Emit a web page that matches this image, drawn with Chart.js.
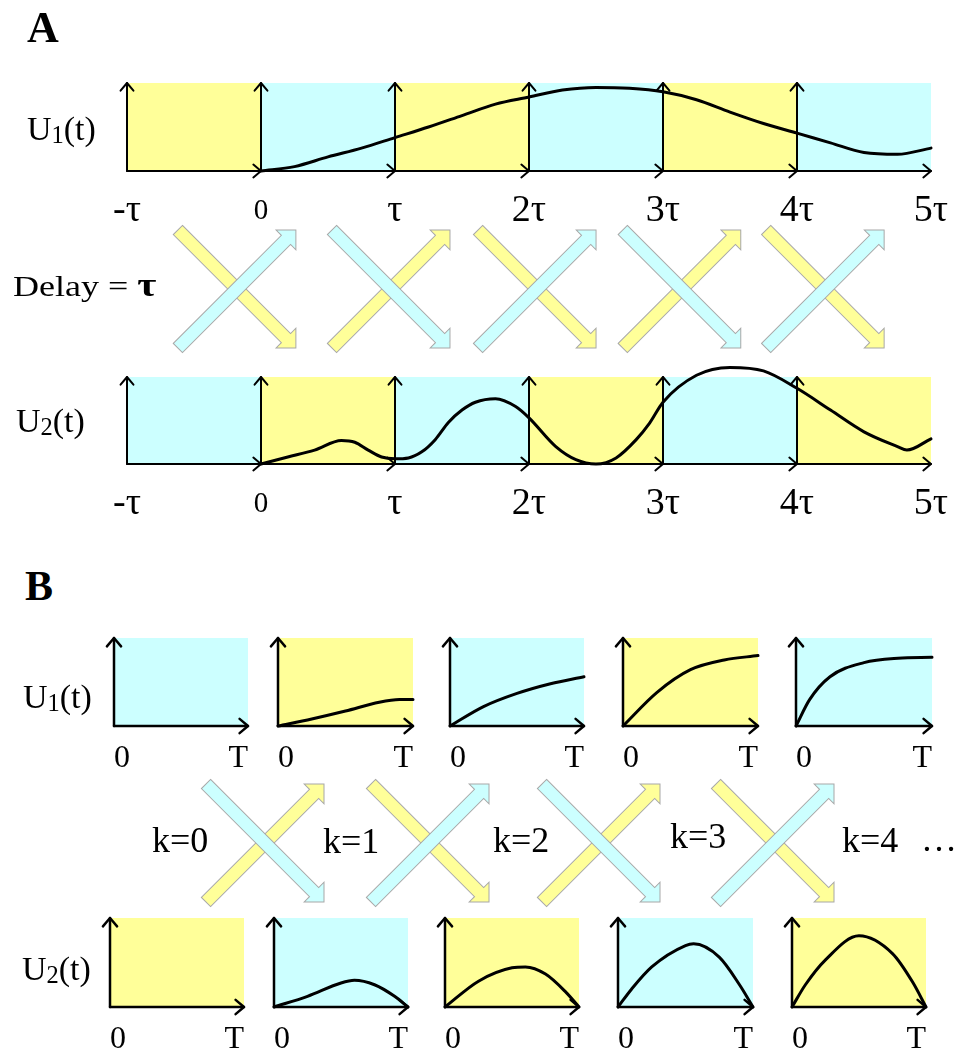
<!DOCTYPE html>
<html><head><meta charset="utf-8">
<script src="https://cdn.jsdelivr.net/npm/chart.js@4.4.1/dist/chart.umd.min.js"></script>
<style>
body{margin:0;background:#fff}
#stage{position:relative;width:957px;height:1052px;overflow:hidden;font-family:"Liberation Serif","Times New Roman",serif;color:#000}
#stage canvas{position:absolute}
.lbl{position:absolute;white-space:nowrap;line-height:1;transform-origin:0 0}
.lbl sub{font-size:0.72em;vertical-align:-0.12em;line-height:0}
</style></head>
<body><div id="stage"></div>
<script>
// time axis of panel A, in units of the delay tau
const tauTicks = [-1, 0, 1, 2, 3, 4, 5];
const tauLabels = ['-τ', '0', 'τ', '2τ', '3τ', '4τ', '5τ'];

// panel A curves (fraction of the box height)
const u1T = [0, 0.25, 0.5, 0.75, 1, 1.25, 1.5, 1.75, 2, 2.25, 2.5, 2.75, 3, 3.25, 3.5, 3.75, 4, 4.25, 4.5, 4.75, 5];
const u1V = [0, 0.05, 0.16, 0.26, 0.38, 0.5, 0.63, 0.76, 0.84, 0.92, 0.95, 0.94, 0.9, 0.81, 0.67, 0.54, 0.43, 0.32, 0.21, 0.19, 0.26];
const u2T = [0, 0.2, 0.4, 0.6, 0.7, 0.8, 0.9, 1, 1.1, 1.2, 1.3, 1.4, 1.5, 1.6, 1.75, 1.9, 2, 2.2, 2.35, 2.5, 2.65, 2.8, 2.9, 3, 3.25, 3.5, 3.75, 4, 4.25, 4.5, 4.75, 4.82, 5];
const u2V = [0, 0.08, 0.16, 0.27, 0.25, 0.16, 0.08, 0.06, 0.07, 0.14, 0.28, 0.48, 0.62, 0.71, 0.75, 0.66, 0.53, 0.2, 0.05, 0, 0.07, 0.28, 0.47, 0.71, 1.02, 1.11, 1.07, 0.87, 0.62, 0.37, 0.2, 0.16, 0.29];

// panel B: one small box per iteration k, time 0..T
const kLabels = ['k=0', 'k=1', 'k=2', 'k=3', 'k=4'];
const bTicks = [0, 1];
const bTickLabels = ['0', 'T'];
const b1T = [[], [0, 0.25, 0.5, 0.75, 0.9, 1], [0, 0.25, 0.5, 0.75, 1], [0, 0.25, 0.5, 0.75, 1], [0, 0.1, 0.25, 0.5, 0.75, 1]];
const b1V = [[], [0, 0.08, 0.17, 0.27, 0.3, 0.3], [0, 0.22, 0.37, 0.48, 0.56], [0, 0.38, 0.64, 0.75, 0.8], [0, 0.3, 0.56, 0.72, 0.77, 0.78]];
const b2T = [[], [0, 0.25, 0.5, 0.6, 0.75, 0.9, 1], [0, 0.25, 0.5, 0.6, 0.75, 0.9, 1], [0, 0.1, 0.25, 0.5, 0.56, 0.75, 0.9, 1], [0, 0.1, 0.25, 0.5, 0.75, 0.9, 1]];
const b2V = [[], [0, 0.12, 0.27, 0.3, 0.25, 0.12, 0], [0, 0.29, 0.44, 0.45, 0.37, 0.17, 0], [0, 0.2, 0.45, 0.69, 0.71, 0.56, 0.25, 0], [0, 0.25, 0.53, 0.8, 0.6, 0.28, 0]];

// ---- styles / layout ----
const FONT = '"Liberation Serif", "Times New Roman", serif';
const YEL = '#ffff99', CYA = '#ccffff';
const stage = document.getElementById('stage');

function pts(ts, vs) { return ts.map((t, i) => ({ x: t, y: vs[i] })); }

function lineArrow(c, x1, y1, x2, y2, head) {
  const a = Math.atan2(y2 - y1, x2 - x1);
  c.beginPath(); c.moveTo(x1, y1); c.lineTo(x2, y2); c.stroke();
  c.beginPath();
  c.moveTo(x2 - head * Math.cos(a - 0.7), y2 - head * Math.sin(a - 0.7));
  c.lineTo(x2, y2);
  c.lineTo(x2 - head * Math.cos(a + 0.7), y2 - head * Math.sin(a + 0.7));
  c.stroke();
}

// fat block arrow like the ones in the figure
function blockArrow(c, x1, y1, x2, y2, fill) {
  const a = Math.atan2(y2 - y1, x2 - x1), L = Math.hypot(x2 - x1, y2 - y1);
  const sw = 6.5, hw = 14, hl = 14;
  c.save(); c.translate(x1, y1); c.rotate(a);
  c.beginPath();
  c.moveTo(0, -sw); c.lineTo(L - hl, -sw); c.lineTo(L - hl, -hw); c.lineTo(L, 0);
  c.lineTo(L - hl, hw); c.lineTo(L - hl, sw); c.lineTo(0, sw); c.closePath();
  c.fillStyle = fill; c.fill();
  c.strokeStyle = '#a8a8a8'; c.lineWidth = 1; c.stroke();
  c.restore();
}

function cross(c, cx, cy, half, down, up) {
  const d = () => blockArrow(c, cx - half, cy - half, cx + half, cy + half, down);
  const u = () => blockArrow(c, cx - half, cy + half, cx + half, cy - half, up);
  if (down === CYA) { u(); d(); } else { d(); u(); }
}

function panelPlugin(spec) {
  return {
    id: 'panel',
    beforeDatasetsDraw(chart) {
      const c = chart.ctx, xs = chart.scales.x, ys = chart.scales.y;
      const yb = ys.getPixelForValue(0), yt = ys.getPixelForValue(1);
      c.save();
      spec.bands.forEach((col, i) => {
        const xa = xs.getPixelForValue(spec.ticks[i]), xb = xs.getPixelForValue(spec.ticks[i + 1]);
        c.fillStyle = col;
        c.fillRect(xa, yt, xb - xa, yb - yt);
      });
      c.strokeStyle = '#000'; c.lineWidth = spec.axisW; c.lineCap = 'round'; c.lineJoin = 'round';
      for (let i = 0; i < spec.ticks.length - 1; i++) {
        const xa = xs.getPixelForValue(spec.ticks[i]), xb = xs.getPixelForValue(spec.ticks[i + 1]);
        lineArrow(c, xa, yb, xb, yb, spec.head);
        lineArrow(c, xa, yb, xa, yt, spec.head);
      }
      c.restore();
    },
    afterDraw(chart) {
      if (!spec.crosses) return;
      const c = chart.ctx;
      c.save();
      spec.crosses(chart).forEach(k => cross(c, k.x, k.y, 59, k.down, k.up));
      c.restore();
    }
  };
}

function panel(spec) {
  const [bl, bt, bw, bh] = spec.box;
  const [al, at, ar, ab] = spec.area;
  const cv = document.createElement('canvas');
  cv.width = bw; cv.height = bh;
  cv.style.left = bl + 'px'; cv.style.top = bt + 'px';
  stage.appendChild(cv);
  const axisH = spec.axisH;
  return new Chart(cv, {
    type: 'line',
    data: { datasets: [{ data: spec.points, borderColor: '#000', borderWidth: 3, pointRadius: 0,
      cubicInterpolationMode: 'monotone', fill: false, clip: false, borderCapStyle: 'round' }] },
    options: {
      responsive: false, animation: false, events: [],
      layout: { padding: { left: al - bl, top: at - bt, right: bl + bw - ar, bottom: Math.max(0, bt + bh - ab - axisH) } },
      plugins: { legend: { display: false }, tooltip: { enabled: false } },
      scales: {
        x: {
          type: 'linear', min: spec.ticks[0], max: spec.ticks[spec.ticks.length - 1],
          afterBuildTicks: s => { s.ticks = spec.ticks.map(v => ({ value: v })); },
          afterFit: s => { s.height = axisH; },
          grid: { display: false }, border: { display: false },
          ticks: {
            autoSkip: false, maxRotation: 0, padding: spec.tickPad, color: '#000', align: spec.align,
            font: ctx => ({ family: FONT, size: spec.tickSize(ctx.tick ? ctx.tick.value : 1), lineHeight: spec.tickLH }),
            callback: (v, i) => spec.labels[i]
          }
        },
        y: { display: false, min: 0, max: 1 }
      }
    },
    plugins: [panelPlugin(spec)]
  });
}

// ---- panel A ----
const crossA = [-0.18, 0.97, 2.06, 3.14, 4.21];
const tauSize = v => v === 0 ? 29 : 38;
panel({
  box: [0, 0, 1000, 362], area: [127, 83, 931, 171], axisH: 70,
  ticks: tauTicks, labels: tauLabels, tickSize: tauSize, tickLH: '40px', tickPad: 12, align: 'center',
  bands: [YEL, CYA, YEL, CYA, YEL, CYA], axisW: 2, head: 10,
  points: pts(u1T, u1V),
  crosses: ch => crossA.map((t, i) => ({
    x: ch.scales.x.getPixelForValue(t), y: ch.chartArea.bottom + 118,
    down: i % 2 ? CYA : YEL, up: i % 2 ? YEL : CYA
  }))
});
panel({
  box: [0, 360, 1000, 172], area: [127, 377, 931, 464], axisH: 68,
  ticks: tauTicks, labels: tauLabels, tickSize: tauSize, tickLH: '40px', tickPad: 12, align: 'center',
  bands: [CYA, YEL, CYA, YEL, CYA, YEL], axisW: 2, head: 10,
  points: pts(u2T, u2V)
});

// ---- panel B ----
const areasB1 = [[114, 638, 248, 726], [278, 638, 413, 726], [450, 638, 584, 726], [623, 638, 758, 726], [796, 638, 932, 726]];
const areasB2 = [[110, 918, 244, 1007], [274, 918, 408, 1007], [445, 918, 579, 1007], [618, 918, 753, 1007], [792, 918, 926, 1007]];
areasB1.forEach((a, k) => {
  panel({
    box: [a[0] - 45, 625, a[2] - a[0] + 140, 290], area: a, axisH: 60,
    ticks: bTicks, labels: bTickLabels, tickSize: () => 32, tickLH: '38px', tickPad: 6, align: 'inner',
    bands: [k % 2 ? YEL : CYA], axisW: 2.5, head: 11,
    points: pts(b1T[k], b1V[k]),
    crosses: k < 4 ? ch => [{
      x: ch.scales.x.getPixelForValue(1) + 17, y: ch.chartArea.bottom + 117,
      down: k % 2 ? YEL : CYA, up: k % 2 ? CYA : YEL
    }] : null
  });
});
areasB2.forEach((a, k) => {
  panel({
    box: [a[0] - 45, 900, a[2] - a[0] + 90, 152], area: a, axisH: 45,
    ticks: bTicks, labels: bTickLabels, tickSize: () => 32, tickLH: '38px', tickPad: 6, align: 'inner',
    bands: [k % 2 ? CYA : YEL], axisW: 2.5, head: 11,
    points: pts(b2T[k], b2V[k])
  });
});

// ---- text labels ----
const kPos = [[152, 852], [323, 853], [493, 852], [670, 848], [842, 852]];
const texts = [
  { html: 'A', x: 27, base: 43, size: 44, bold: true },
  { html: 'U<sub>1</sub>(t)', x: 27, base: 140, size: 34 },
  { html: 'Delay = <b style="font-size:1.15em">τ</b>', x: 13, base: 292, size: 30, sx: 1.2 },
  { html: 'U<sub>2</sub>(t)', x: 16, base: 432, size: 34 },
  { html: 'B', x: 25, base: 600, size: 42, bold: true },
  { html: 'U<sub>1</sub>(t)', x: 23, base: 708, size: 34 },
  { html: 'U<sub>2</sub>(t)', x: 22, base: 980, size: 34 },
  { html: '…', x: 921, base: 851, size: 36 }
];
kLabels.forEach((s, i) => texts.push({ html: s, x: kPos[i][0], base: kPos[i][1], size: 36 }));
texts.forEach(t => {
  const d = document.createElement('div');
  d.className = 'lbl';
  d.innerHTML = t.html;
  d.style.left = t.x + 'px';
  d.style.top = (t.base - 0.8375 * t.size) + 'px';
  d.style.fontSize = t.size + 'px';
  if (t.bold) d.style.fontWeight = 'bold';
  if (t.sx) d.style.transform = 'scaleX(' + t.sx + ')';
  stage.appendChild(d);
});
</script></body></html>
